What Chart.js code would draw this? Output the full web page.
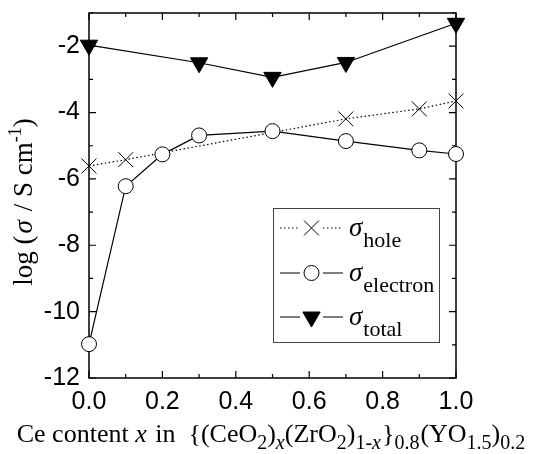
<!DOCTYPE html>
<html>
<head>
<meta charset="utf-8">
<script src="https://cdn.jsdelivr.net/npm/chart.js@4.4.1/dist/chart.umd.min.js"></script>
<style>
  body { margin: 0; background: #fff; }
  #wrap { width: 535px; height: 454px; }
</style>
</head>
<body>
<div id="wrap"><canvas id="chart" width="535" height="454"></canvas></div>
<script>
// data
const xHole = [0, 0.1, 0.7, 0.9, 1.0];
const holeVals = [-5.61, -5.42, -4.19, -3.89, -3.65];

const xElectron = [0, 0.1, 0.2, 0.3, 0.5, 0.7, 0.9, 1.0];
const electronVals = [-10.98, -6.22, -5.26, -4.69, -4.56, -4.86, -5.14, -5.25];

const xTotal = [0, 0.3, 0.5, 0.7, 1.0];
const totalVals = [-1.97, -2.50, -2.94, -2.49, -1.31];

const xTickLabels = [0, 0.2, 0.4, 0.6, 0.8, 1.0];
const xTicksAll = [0, 0.1, 0.2, 0.3, 0.4, 0.5, 0.6, 0.7, 0.8, 0.9, 1.0];
const yTickLabels = [-12, -10, -8, -6, -4, -2];
const yTicksAll = [-12, -11, -10, -9, -8, -7, -6, -5, -4, -3, -2, -1];

const SERIF = '"Liberation Serif", "Times New Roman", serif';
const SANS = '"Liberation Sans", Arial, sans-serif';

function pts(xs, ys) {
  return xs.map((x, i) => ({ x: x, y: ys[i] }));
}

// draws a list of text runs (normal / italic / sub / sup) starting at x, baseline y
function drawRuns(ctx, runs, x, y) {
  let cx = x;
  runs.forEach(r => {
    ctx.font = (r.italic ? 'italic ' : '') + r.size + 'px ' + SERIF;
    ctx.fillText(r.t, cx, y + (r.dy || 0));
    cx += ctx.measureText(r.t).width + (r.gap || 0);
  });
  return cx - x;
}
function runsWidth(ctx, runs) {
  let w = 0;
  runs.forEach(r => {
    ctx.font = (r.italic ? 'italic ' : '') + r.size + 'px ' + SERIF;
    w += ctx.measureText(r.t).width + (r.gap || 0);
  });
  return w;
}

const frame = {
  id: 'frame',
  beforeDatasetsDraw(chart) {
    const { ctx, chartArea: a, scales: { x, y } } = chart;
    ctx.save();
    ctx.strokeStyle = '#000';
    ctx.lineWidth = 1.5;
    ctx.strokeRect(a.left, a.top, a.right - a.left, a.bottom - a.top);
    ctx.lineWidth = 1.2;
    ctx.beginPath();
    xTicksAll.forEach((v, i) => {
      const px = x.getPixelForValue(v);
      const len = i % 2 === 0 ? 7 : 4;
      ctx.moveTo(px, a.bottom); ctx.lineTo(px, a.bottom - len);
      ctx.moveTo(px, a.top); ctx.lineTo(px, a.top + len);
    });
    yTicksAll.forEach(v => {
      const py = y.getPixelForValue(v);
      const len = v % 2 === 0 ? 7 : 4;
      ctx.moveTo(a.left, py); ctx.lineTo(a.left + len, py);
      ctx.moveTo(a.right, py); ctx.lineTo(a.right - len, py);
    });
    ctx.stroke();
    ctx.restore();
  },
  afterDraw(chart) {
    const { ctx } = chart;
    ctx.save();
    ctx.fillStyle = '#000';
    ctx.textBaseline = 'alphabetic';
    ctx.textAlign = 'left';

    // x title
    const xr = [
      { t: 'Ce content ', size: 26 },
      { t: 'x', size: 26, italic: true, gap: 2 },
      { t: ' in  {(CeO', size: 26 },
      { t: '2', size: 20, dy: 7 },
      { t: ')', size: 26 },
      { t: 'x', size: 20, italic: true, dy: 7 },
      { t: '(ZrO', size: 26 },
      { t: '2', size: 20, dy: 7 },
      { t: ')', size: 26 },
      { t: '1-', size: 20, dy: 7 },
      { t: 'x', size: 20, italic: true, dy: 7, gap: 1 },
      { t: '}', size: 26 },
      { t: '0.8', size: 20, dy: 7, gap: 1 },
      { t: '(YO', size: 26 },
      { t: '1.5', size: 20, dy: 7 },
      { t: ')', size: 26 },
      { t: '0.2', size: 20, dy: 7 }
    ];
    const xw = runsWidth(ctx, xr);
    drawRuns(ctx, xr, 271 - xw / 2, 442);

    // y title
    const yr = [
      { t: 'log (', size: 27, gap: 2 },
      { t: 'σ', size: 27, italic: true, gap: 2 },
      { t: ' / S cm', size: 27 },
      { t: '-1', size: 18, dy: -11 },
      { t: ')', size: 27 }
    ];
    const yw = runsWidth(ctx, yr);
    ctx.save();
    ctx.translate(32, 202);
    ctx.rotate(-Math.PI / 2);
    drawRuns(ctx, yr, -yw / 2, 0);
    ctx.restore();

    // legend
    ctx.strokeStyle = '#444';
    ctx.lineWidth = 1;
    ctx.strokeRect(273.5, 208.5, 166, 134);
    const entries = [
      { ds: 0, sub: 'hole', y: 228 },
      { ds: 1, sub: 'electron', y: 273 },
      { ds: 2, sub: 'total', y: 317 }
    ];
    entries.forEach(e => {
      const d = chart.data.datasets[e.ds];
      ctx.save();
      ctx.strokeStyle = d.borderColor;
      ctx.lineWidth = d.borderWidth;
      ctx.setLineDash(d.borderDash || []);
      ctx.beginPath();
      ctx.moveTo(280, e.y); ctx.lineTo(300, e.y);
      ctx.moveTo(323, e.y); ctx.lineTo(343, e.y);
      ctx.stroke();
      ctx.setLineDash([]);
      ctx.fillStyle = d.pointBackgroundColor;
      ctx.strokeStyle = d.pointBorderColor;
      ctx.lineWidth = d.pointBorderWidth;
      Chart.helpers.drawPoint(ctx, {
        pointStyle: d.pointStyle,
        radius: d.pointRadius,
        rotation: d.pointRotation || 0,
        borderWidth: d.pointBorderWidth
      }, 311.5, e.y);
      ctx.restore();
      ctx.fillStyle = '#000';
      drawRuns(ctx, [
        { t: 'σ', size: 27, italic: true, gap: 1 },
        { t: e.sub, size: 22, dy: 11 }
      ], 349, e.y + 8);
    });
    ctx.restore();
  }
};

const chart = new Chart(document.getElementById('chart').getContext('2d'), {
  type: 'scatter',
  data: {
    datasets: [
      {
        label: 'hole',
        data: pts(xHole, holeVals),
        showLine: true,
        borderColor: '#000',
        borderWidth: 1.2,
        borderDash: [1.5, 2.5],
        pointStyle: 'crossRot',
        pointRadius: 10.5,
        pointBorderWidth: 1,
        pointBorderColor: '#000',
        pointBackgroundColor: '#000',
        order: 2
      },
      {
        label: 'electron',
        data: pts(xElectron, electronVals),
        showLine: true,
        borderColor: '#000',
        borderWidth: 1.2,
        pointStyle: 'circle',
        pointRadius: 7.5,
        pointBorderWidth: 1,
        pointBorderColor: '#000',
        pointBackgroundColor: '#fff',
        order: 0
      },
      {
        label: 'total',
        data: pts(xTotal, totalVals),
        showLine: true,
        borderColor: '#000',
        borderWidth: 1.2,
        pointStyle: 'triangle',
        pointRotation: 180,
        pointRadius: 10,
        pointBorderWidth: 1,
        pointBorderColor: '#000',
        pointBackgroundColor: '#000',
        order: 1
      }
    ]
  },
  options: {
    responsive: false,
    animation: false,
    clip: false,
    layout: { padding: { top: 13, right: 79, left: 0, bottom: 0 } },
    plugins: {
      legend: { display: false },
      tooltip: { enabled: false }
    },
    scales: {
      x: {
        type: 'linear',
        min: 0, max: 1,
        afterBuildTicks: s => { s.ticks = xTickLabels.map(v => ({ value: v })); },
        afterFit: s => { s.height = 76; s.paddingLeft = 0; s.paddingRight = 0; },
        grid: { display: false, drawTicks: false },
        border: { display: false },
        ticks: {
          color: '#000',
          padding: 9,
          font: { family: SANS, size: 25 },
          maxRotation: 0,
          callback: v => v.toFixed(1)
        }
      },
      y: {
        type: 'linear',
        min: -12, max: -1,
        afterBuildTicks: s => { s.ticks = yTickLabels.map(v => ({ value: v })); },
        afterFit: s => { s.width = 89; s.paddingTop = 0; s.paddingBottom = 0; },
        grid: { display: false, drawTicks: false },
        border: { display: false },
        ticks: {
          color: '#000',
          padding: 9,
          font: { family: SANS, size: 25 },
          callback: v => String(v)
        }
      }
    }
  },
  plugins: [frame]
});
</script>
</body>
</html>
